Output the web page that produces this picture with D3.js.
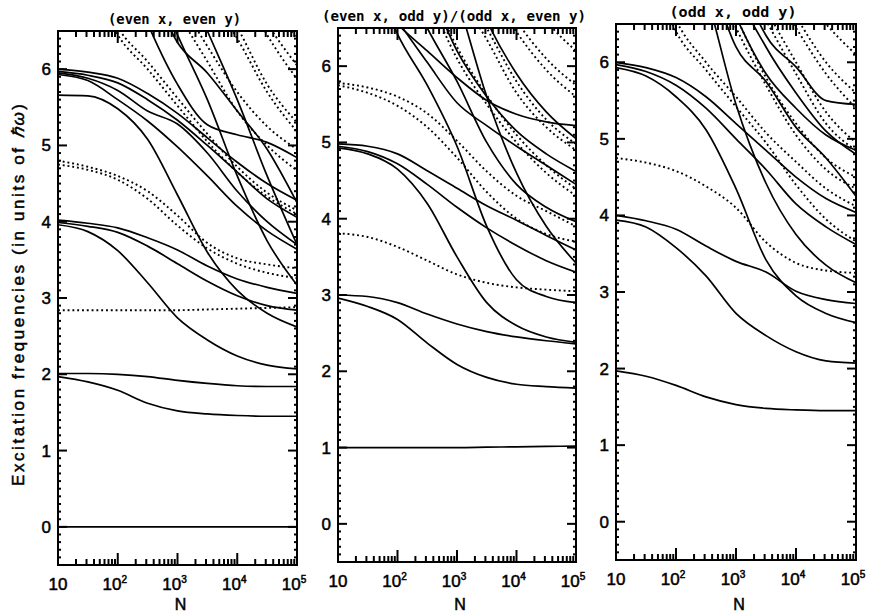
<!DOCTYPE html>
<html>
<head>
<meta charset="utf-8">
<script src="https://cdn.jsdelivr.net/npm/d3@7"></script>
<style>
  body { margin: 0; background: #fff; }
</style>
</head>
<body>
<script>
// N values where every curve is sampled (half decades)
var nGrid = [10, 31.6, 100, 316, 1000, 3162, 10000, 31623, 100000];

var xMajor = [10, 100, 1000, 10000, 100000];
var xMinorMult = [2, 3, 4, 5, 6, 7, 8, 9];
var xLabels = [['10', ''], ['10', '2'], ['10', '3'], ['10', '4'], ['10', '5']];
var yMajor = [0, 1, 2, 3, 4, 5, 6];
var titles = ['(even x, even y)', '(even x, odd y)/(odd x, even y)', '(odd x, odd y)'];

/* values above 6.5 are off the top of the frame */
var eeSolid = [
    [0, 0, 0, 0, 0, 0, 0, 0, 0],
    [2.01, 2.01, 2.0, 1.97, 1.92, 1.88, 1.85, 1.84, 1.84],
    [1.97, 1.9, 1.79, 1.62, 1.52, 1.48, 1.46, 1.45, 1.45],
    [3.96, 3.87, 3.62, 3.2, 2.74, 2.45, 2.24, 2.12, 2.07],
    [4.02, 3.98, 3.92, 3.79, 3.63, 3.42, 3.25, 3.14, 3.06],
    [3.99, 3.94, 3.86, 3.68, 3.45, 3.22, 3.03, 2.9, 2.84],
    [5.66, 5.65, 5.48, 5.08, 4.35, 3.6, 3.1, 2.8, 2.62],
    [6.0, 5.96, 5.88, 5.68, 5.42, 5.1, 4.78, 4.5, 4.28],
    [5.97, 5.92, 5.82, 5.6, 5.33, 5.0, 4.65, 4.3, 4.06],
    [5.95, 5.88, 5.72, 5.45, 5.28, 4.9, 4.4, 4.0, 3.7],
    [5.93, 5.85, 5.6, 5.32, 4.98, 4.6, 4.2, 3.88, 3.64],
    [9, 8.5, 7.6, 6.6, 5.8, 5.27, 5.14, 5.04, 4.84],
    [9, 9, 8.3, 7.2, 6.35, 5.95, 5.45, 4.95, 4.25],
    [9, 9, 8.6, 7.4, 6.45, 5.6, 4.6, 3.75, 3.17],
    [9, 9, 9, 8.5, 7.4, 6.5, 5.6, 4.6, 3.7]
];
var eeDotted = [
    [2.84, 2.84, 2.84, 2.84, 2.84, 2.85, 2.86, 2.87, 2.88],
    [4.8, 4.72, 4.6, 4.4, 4.08, 3.72, 3.52, 3.44, 3.39],
    [4.75, 4.68, 4.55, 4.3, 3.95, 3.65, 3.45, 3.33, 3.26],
    [8, 7.4, 6.55, 6.1, 5.62, 5.15, 4.72, 4.38, 4.15],
    [8, 7.3, 6.45, 6.0, 5.52, 5.05, 4.65, 4.33, 4.1],
    [9, 9, 8.6, 7.7, 6.95, 6.3, 5.7, 5.25, 4.95],
    [9, 9, 8.5, 7.5, 6.75, 6.1, 5.45, 5.0, 4.67],
    [9, 9, 9, 9, 8, 7.2, 6.55, 5.8, 5.3],
    [9, 9, 9, 9, 7.8, 7.0, 6.4, 5.7, 5.18],
    [9, 9, 9, 9, 9, 8, 7.3, 6.6, 6.05],
    [9, 9, 9, 9, 9, 7.9, 7.2, 6.45, 5.87],
    [9, 9, 9, 9, 9, 9, 8, 7.0, 6.4]
];

var eoSolid = [
    [1, 1, 1, 1, 1, 1.005, 1.01, 1.015, 1.02],
    [2.96, 2.85, 2.68, 2.37, 2.09, 1.92, 1.83, 1.8, 1.78],
    [3.0, 2.98, 2.9, 2.75, 2.62, 2.52, 2.45, 2.4, 2.36],
    [4.98, 4.95, 4.85, 4.63, 4.4, 4.17, 3.98, 3.78, 3.59],
    [4.95, 4.88, 4.72, 4.45, 4.15, 3.88, 3.65, 3.45, 3.3],
    [4.93, 4.85, 4.65, 4.2, 3.5, 2.9, 2.6, 2.45, 2.38],
    [7.6, 7.0, 6.55, 6.2, 5.85, 5.55, 5.37, 5.27, 5.22],
    [7.8, 7.2, 6.6, 6.05, 5.52, 5.22, 4.95, 4.7, 4.45],
    [8, 7.4, 6.42, 5.75, 4.95, 3.9, 3.2, 2.98, 2.9],
    [9, 8.5, 7.3, 6.5, 5.8, 5.0, 4.45, 4.15, 3.96],
    [9, 9, 8, 7.1, 6.2, 5.6, 5.15, 4.85, 4.62],
    [9, 9, 9, 8, 6.9, 5.6, 4.6, 3.9, 3.42],
    [9, 9, 9, 8.6, 7.6, 6.6, 5.9, 5.4, 5.05]
];
var eoDotted = [
    [5.78, 5.72, 5.6, 5.38, 5.02, 4.62, 4.3, 4.1, 3.9],
    [5.75, 5.65, 5.48, 5.2, 4.8, 4.35, 4.0, 3.8, 3.7],
    [3.81, 3.76, 3.63, 3.45, 3.27, 3.16, 3.1, 3.07, 3.05],
    [9, 9, 8, 7.1, 6.25, 5.62, 5.1, 4.7, 4.39],
    [9, 9, 7.8, 6.95, 6.1, 5.5, 5.0, 4.6, 4.3],
    [9, 9, 9, 8, 7.2, 6.5, 5.8, 5.3, 4.98],
    [9, 9, 9, 7.9, 7.0, 6.35, 5.65, 5.2, 4.9],
    [9, 9, 9, 9, 8, 7.3, 6.6, 6.1, 5.75],
    [9, 9, 9, 9, 7.8, 7.1, 6.45, 5.95, 5.6],
    [9, 9, 9, 9, 9, 8, 7.2, 6.6, 6.2]
];

var ooSolid = [
    [1.97, 1.9, 1.78, 1.63, 1.53, 1.48, 1.46, 1.45, 1.45],
    [3.94, 3.85, 3.58, 3.21, 2.72, 2.43, 2.22, 2.1, 2.07],
    [4.0, 3.93, 3.82, 3.6, 3.4, 3.26, 3.01, 2.9, 2.85],
    [6.0, 5.93, 5.8, 5.55, 5.2, 4.85, 4.5, 4.22, 4.04],
    [5.97, 5.88, 5.7, 5.4, 5.0, 4.6, 4.15, 3.85, 3.62],
    [5.93, 5.82, 5.55, 5.12, 4.35, 3.42, 2.95, 2.72, 2.6],
    [9, 9, 8.0, 6.9, 5.45, 4.42, 3.75, 3.35, 3.12],
    [9, 9, 8.5, 7.3, 6.2, 5.75, 5.15, 4.75, 4.25],
    [9, 9, 9, 7.6, 6.6, 5.85, 5.4, 5.05, 4.85],
    [9, 9, 9, 9, 7.3, 6.35, 5.94, 5.5, 5.45],
    [9, 9, 9, 8.5, 7.0, 6.2, 5.6, 5.1, 4.8]
];
var ooDotted = [
    [4.75, 4.69, 4.58, 4.38, 4.1, 3.65, 3.38, 3.28, 3.25],
    [8.5, 7.6, 6.55, 6.0, 5.55, 5.08, 4.7, 4.35, 4.12],
    [8.3, 7.4, 6.4, 5.9, 5.42, 4.95, 4.4, 3.95, 3.66],
    [9, 9, 8.5, 7.5, 6.6, 5.8, 5.2, 4.75, 4.5],
    [9, 9, 8.3, 7.3, 6.45, 5.7, 5.05, 4.6, 4.35],
    [9, 9, 9, 8.5, 7.5, 6.7, 6.0, 5.35, 4.95],
    [9, 9, 9, 8.3, 7.3, 6.55, 5.85, 5.2, 4.85],
    [9, 9, 9, 9, 8.2, 7.3, 6.6, 6.0, 5.6],
    [9, 9, 9, 9, 8, 7.1, 6.45, 5.85, 5.4],
    [9, 9, 9, 9, 9, 8, 7, 6.5, 6.1]
];

/* frame positions per panel (the scan is slightly tilted) */
var panels = [
    {title: titles[0], solid: eeSolid, dotted: eeDotted, x0: 58, x1: 297, top: 31, bottom: 565, tw: 133},
    {title: titles[1], solid: eoSolid, dotted: eoDotted, x0: 338, x1: 576, top: 28, bottom: 562, tw: 264},
    {title: titles[2], solid: ooSolid, dotted: ooDotted, x0: 616, x1: 856, top: 24, bottom: 560, tw: 127}
];

var width = 877, height = 614;

var svg = d3.select('body').append('svg')
    .attr('width', width)
    .attr('height', height)
    .style('font-family', '"Liberation Sans", Arial, sans-serif');

panels.forEach(function(p, i) {
    var x = d3.scaleLog().domain([10, 1e5]).range([p.x0, p.x1]);
    var y = d3.scaleLinear().domain([-0.5, 6.5]).range([p.bottom, p.top]);
    var g = svg.append('g');

    g.append('clipPath').attr('id', 'clip' + i)
        .append('rect')
        .attr('x', p.x0).attr('y', p.top)
        .attr('width', p.x1 - p.x0).attr('height', p.bottom - p.top);

    var curveGen = d3.line()
        .x((d, j) => x(nGrid[j]))
        .y(d => y(d))
        .curve(d3.curveMonotoneX);

    var curves = g.append('g').attr('clip-path', 'url(#clip' + i + ')');
    curves.selectAll('path.dot').data(p.dotted).enter().append('path')
        .attr('class', 'dot')
        .attr('d', curveGen)
        .attr('fill', 'none')
        .attr('stroke', 'black')
        .attr('stroke-width', 1.9)
        .attr('stroke-dasharray', '1.9,2.9');
    curves.selectAll('path.sol').data(p.solid).enter().append('path')
        .attr('class', 'sol')
        .attr('d', curveGen)
        .attr('fill', 'none')
        .attr('stroke', 'black')
        .attr('stroke-width', 1.7);

    g.append('rect')
        .attr('x', p.x0).attr('y', p.top)
        .attr('width', p.x1 - p.x0).attr('height', p.bottom - p.top)
        .attr('fill', 'none').attr('stroke', 'black').attr('stroke-width', 2);

    /* tick marks pointing into the frame: decades long, 2..9 short; integers long, tenths short */
    var xt = [];
    xMajor.forEach(function(m) {
        xt.push({v: m, len: 12});
        if (m < 1e5) xMinorMult.forEach(k => xt.push({v: m * k, len: 6}));
    });
    var yt = d3.range(-5, 66).map(k => ({v: k / 10, len: k % 10 === 0 ? 9 : 3}));

    var tk = g.append('g');
    tk.selectAll('line.tb').data(xt).enter().append('line')
        .attr('class', 'tb')
        .attr('x1', d => x(d.v)).attr('x2', d => x(d.v))
        .attr('y1', p.bottom).attr('y2', d => p.bottom - d.len)
        .attr('stroke', 'black').attr('stroke-width', 2);
    tk.selectAll('line.tt').data(xt).enter().append('line')
        .attr('class', 'tt')
        .attr('x1', d => x(d.v)).attr('x2', d => x(d.v))
        .attr('y1', p.top).attr('y2', d => p.top + d.len)
        .attr('stroke', 'black').attr('stroke-width', 2);
    tk.selectAll('line.tl').data(yt).enter().append('line')
        .attr('class', 'tl')
        .attr('x1', p.x0).attr('x2', d => p.x0 + d.len)
        .attr('y1', d => y(d.v)).attr('y2', d => y(d.v))
        .attr('stroke', 'black').attr('stroke-width', 2);
    tk.selectAll('line.tr').data(yt).enter().append('line')
        .attr('class', 'tr')
        .attr('x1', p.x1).attr('x2', d => p.x1 - d.len)
        .attr('y1', d => y(d.v)).attr('y2', d => y(d.v))
        .attr('stroke', 'black').attr('stroke-width', 2);

    // y tick labels
    g.selectAll('text.ylab').data(yMajor).enter().append('text')
        .attr('class', 'ylab')
        .attr('x', p.x0 - 7)
        .attr('y', d => y(d) + 6)
        .attr('text-anchor', 'end')
        .attr('font-size', 17)
        .attr('fill', 'black').attr('stroke', 'black').attr('stroke-width', 0.5)
        .text(d => d);

    // x tick labels 10, 10^2 ...
    var xl = g.selectAll('text.xlab').data(xMajor).enter().append('text')
        .attr('class', 'xlab')
        .attr('x', d => x(d) - (d === 10 ? 0 : 3))
        .attr('y', p.bottom + 25)
        .attr('text-anchor', 'middle')
        .attr('font-size', 17)
        .attr('fill', 'black').attr('stroke', 'black').attr('stroke-width', 0.5);
    xl.append('tspan').text((d, j) => xLabels[j][0]);
    xl.append('tspan')
        .attr('dy', -7)
        .attr('font-size', 10)
        .text((d, j) => xLabels[j][1]);

    g.append('text')
        .attr('x', (p.x0 + p.x1) / 2 + 3)
        .attr('y', 610)
        .attr('text-anchor', 'middle')
        .attr('font-size', 16)
        .attr('fill', 'black').attr('stroke', 'black').attr('stroke-width', 0.5)
        .text('N');

    g.append('text')
        .attr('x', (p.x0 + p.x1) / 2 - 3)
        .attr('y', p.top - 7)
        .attr('text-anchor', 'middle')
        .attr('font-family', '"DejaVu Sans Mono", monospace')
        .attr('font-weight', 'bold')
        .attr('font-size', 14)
        .attr('textLength', p.tw)
        .attr('lengthAdjust', 'spacingAndGlyphs')
        .attr('fill', 'black')
        .text(p.title);
});

var ylab = svg.append('text')
    .attr('transform', 'translate(24,295) rotate(-90)')
    .attr('text-anchor', 'middle')
    .attr('font-size', 17)
    .attr('textLength', 382)
    .attr('lengthAdjust', 'spacing')
    .attr('fill', 'black').attr('stroke', 'black').attr('stroke-width', 0.5);
ylab.append('tspan').text('Excitation frequencies (in units of ');
ylab.append('tspan').attr('font-style', 'italic').text('ℏω');
ylab.append('tspan').text(')');
</script>
</body>
</html>
